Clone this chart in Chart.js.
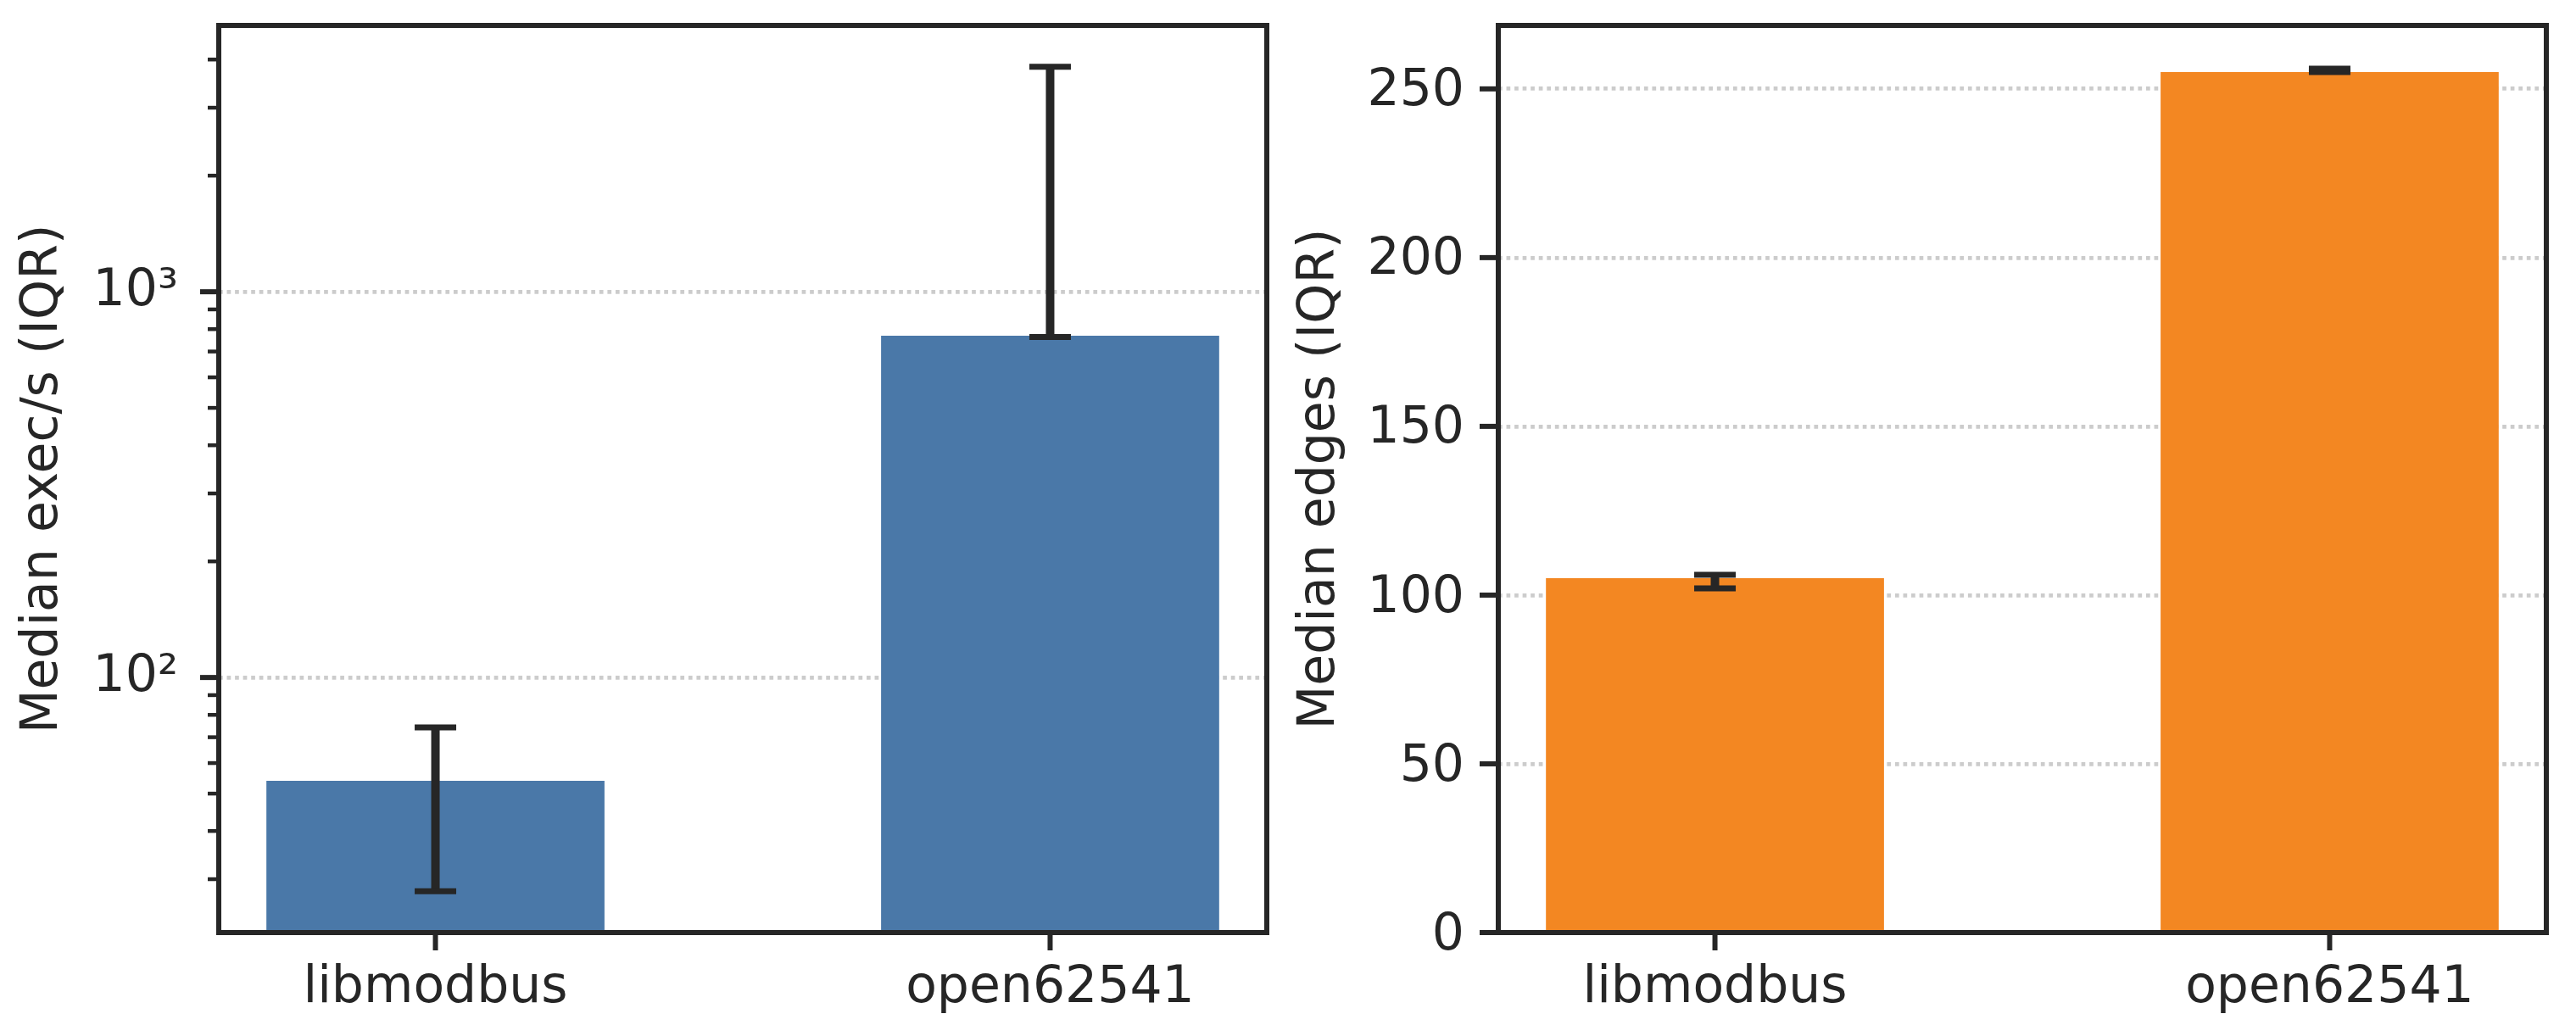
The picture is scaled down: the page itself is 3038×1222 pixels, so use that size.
<!DOCTYPE html>
<html>
<head>
<meta charset="utf-8">
<script src="https://cdn.jsdelivr.net/npm/chart.js@4/dist/chart.umd.min.js"></script>
<style>
html, body { margin: 0; padding: 0; background: #fff; }
#wrap { position: relative; width: 3038px; height: 1222px; }
canvas { position: absolute; top: 0; }
</style>
</head>
<body>
<div id="wrap">
<canvas id="exec_chart" width="1519" height="1222" style="left:0"></canvas>
<canvas id="edges_chart" width="1519" height="1222" style="left:1519px"></canvas>
</div>
<script>
// data
const categories = ['libmodbus', 'open62541'];

const execMedian = [54.0, 769];
const execQ1 = [27.9, 763];
const execQ3 = [74.2, 3833];
const execMajorTicks = [100, 1000];
const execTickLabels = ['10²', '10³'];
const execMinorTicks = [30, 40, 50, 60, 70, 80, 90, 200, 300, 400, 500, 600, 700, 800, 900, 2000, 3000, 4000];

const edgesMedian = [105, 255];
const edgesQ1 = [102, 255];
const edgesQ3 = [106, 256];
const edgesTicks = [0, 50, 100, 150, 200, 250];

const ink = '#262626';
const gridColor = 'rgba(191,191,191,0.8)';
const fontFamily = "'DejaVu Sans', sans-serif";

// matplotlib-like limits: bar width 0.55, 5% margins
const barWidth = 0.55;
const xPad = 0.05 * (categories.length - 1 + barWidth);
const xMin = -barWidth / 2 - xPad;
const xMax = categories.length - 1 + barWidth / 2 + xPad;

function errorBars(lows, highs) {
	return {
		id: 'errorbars',
		afterDraw(chart) {
			const ctx = chart.ctx;
			const xs = chart.scales.x, ys = chart.scales.y;
			ctx.save();
			ctx.strokeStyle = ink;
			ctx.lineCap = 'butt';
			lows.forEach((lo, i) => {
				const x = xs.getPixelForValue(i);
				const y1 = ys.getPixelForValue(lo);
				const y2 = ys.getPixelForValue(highs[i]);
				ctx.lineWidth = 10;
				ctx.beginPath();
				ctx.moveTo(x, y1);
				ctx.lineTo(x, y2);
				ctx.stroke();
				ctx.lineWidth = 7;
				[y1, y2].forEach(y => {
					ctx.beginPath();
					ctx.moveTo(x - 24.5, y);
					ctx.lineTo(x + 24.5, y);
					ctx.stroke();
				});
			});
			ctx.restore();
		}
	};
}

const framePlugin = {
	id: 'frame',
	afterDraw(chart) {
		const ctx = chart.ctx, a = chart.chartArea;
		const xs = chart.scales.x, ys = chart.scales.y;
		ctx.save();
		ctx.strokeStyle = ink;
		ctx.lineCap = 'butt';
		ys.ticks.forEach(t => {
			const y = ys.getPixelForValue(t.value);
			ctx.lineWidth = t.major ? 6 : 4.5;
			ctx.beginPath();
			ctx.moveTo(a.left - (t.major ? 22 : 13), y);
			ctx.lineTo(a.left, y);
			ctx.stroke();
		});
		xs.ticks.forEach(t => {
			const x = xs.getPixelForValue(t.value);
			ctx.lineWidth = 6;
			ctx.beginPath();
			ctx.moveTo(x, a.bottom);
			ctx.lineTo(x, a.bottom + 21);
			ctx.stroke();
		});
		ctx.lineWidth = 6;
		ctx.strokeRect(a.left, a.top, a.right - a.left, a.bottom - a.top);
		ctx.restore();
	}
};

function makeChart(id, opts) {
	const ctx = document.getElementById(id).getContext('2d');
	return new Chart(ctx, {
		type: 'bar',
		data: {
			datasets: [{
				data: categories.map((c, i) => ({x: i, y: opts.median[i]})),
				backgroundColor: opts.color,
				borderWidth: 0,
				barPercentage: barWidth,
				categoryPercentage: 1,
			}]
		},
		options: {
			responsive: false,
			devicePixelRatio: 1,
			animation: false,
			events: [],
			layout: {padding: {left: 0, top: 30, right: opts.padRight, bottom: 0}},
			plugins: {legend: {display: false}, tooltip: {enabled: false}},
			scales: {
				x: {
					type: 'linear',
					min: xMin,
					max: xMax,
					offset: false,
					bounds: 'data',
					afterBuildTicks: (s) => { s.ticks = categories.map((c, i) => ({value: i, major: true})); },
					afterFit: (s) => {
						s.height = 122;
						s.paddingLeft = 0;
						s.paddingRight = 0;
					},
					grid: {display: false, drawTicks: false, offset: false},
					border: {display: false},
					ticks: {
						autoSkip: false,
						maxRotation: 0,
						padding: 30,
						color: ink,
						font: {family: fontFamily, size: 60, lineHeight: 1.2},
						callback: (v) => categories[v] !== undefined ? categories[v] : ''
					}
				},
				y: {
					type: opts.yType,
					min: opts.yMin,
					max: opts.yMax,
					bounds: 'data',
					z: 1,
					afterBuildTicks: opts.buildTicks,
					afterFit: (s) => {
						s.width = opts.axisWidth;
						s.paddingTop = 0;
						s.paddingBottom = 0;
					},
					grid: {
						drawTicks: false,
						lineWidth: 4.7,
						color: (c) => (c.tick && c.tick.major) ? gridColor : 'rgba(0,0,0,0)'
					},
					border: {display: false, dash: [4.7, 4.85]},
					ticks: {
						autoSkip: false,
						padding: opts.tickPad,
						labelOffset: opts.labelOffset,
						color: ink,
						font: {family: fontFamily, size: 60, lineHeight: 1.2},
						callback: opts.tickLabel
					},
					title: {
						display: true,
						text: opts.title,
						color: ink,
						padding: {top: opts.titlePad, bottom: 0},
						font: {family: fontFamily, size: 60, lineHeight: 1.2}
					}
				}
			}
		},
		plugins: [errorBars(opts.q1, opts.q3), framePlugin]
	});
}

// log limits with 5% margin in decades, like matplotlib autoscale
const logLo = Math.log10(Math.min(...execQ1));
const logHi = Math.log10(Math.max(...execQ3));
const logPad = 0.05 * (logHi - logLo);

const exec_chart = makeChart('exec_chart', {
	median: execMedian, q1: execQ1, q3: execQ3,
	color: '#4a78a8',
	yType: 'logarithmic',
	yMin: Math.pow(10, logLo - logPad),
	yMax: Math.pow(10, logHi + logPad),
	buildTicks: (s) => {
		const t = execMinorTicks.map(v => ({value: v, major: false}))
			.concat(execMajorTicks.map(v => ({value: v, major: true})));
		t.sort((a, b) => a.value - b.value);
		s.ticks = t;
	},
	tickLabel: (v) => {
		const k = execMajorTicks.indexOf(v);
		return k >= 0 ? execTickLabels[k] : '';
	},
	axisWidth: 258,
	padRight: 25,
	tickPad: 48,
	labelOffset: 0,
	titlePad: 15,
	title: 'Median exec/s (IQR)'
});

const edgesTop = Math.max(...edgesQ3);

const edges_chart = makeChart('edges_chart', {
	median: edgesMedian, q1: edgesQ1, q3: edgesQ3,
	color: '#f38722',
	yType: 'linear',
	yMin: 0,
	yMax: edgesTop + 0.05 * edgesTop,
	buildTicks: (s) => { s.ticks = edgesTicks.map(v => ({value: v, major: true})); },
	tickLabel: (v) => String(v),
	axisWidth: 248,
	padRight: 35,
	tickPad: 40,
	labelOffset: 4,
	titlePad: 2,
	title: 'Median edges (IQR)'
});
</script>
</body>
</html>
